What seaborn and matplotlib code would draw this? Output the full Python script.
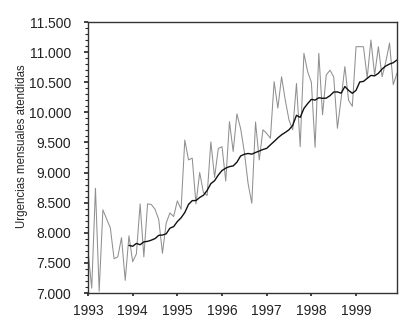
import numpy as np
import pandas as pd
import matplotlib
matplotlib.use("Agg")
import matplotlib.pyplot as plt
from matplotlib.ticker import FuncFormatter, MultipleLocator
from matplotlib import font_manager
import seaborn as sns

# monthly emergencies attended, Jan 1993 .. Dec 1999
years = [1993, 1994, 1995, 1996, 1997, 1998, 1999]
urgencias = [
    7700, 7080, 8740, 7030, 8380, 8230, 8080, 7570, 7600, 7920, 7210, 7950,
    7520, 7650, 8480, 7600, 8480, 8470, 8390, 8220, 7660, 8160, 8330, 8270,
    8530, 8390, 9540, 9210, 9240, 8480, 9000, 8670, 8620, 9510, 8920, 9400,
    9430, 8860, 9845, 9350, 9975, 9730, 9340, 8820, 8490, 9840, 9210, 9710,
    9650, 9570, 10510, 10070, 10590, 10200, 9870, 9710, 10480, 9430, 10980, 10675,
    10500, 9420, 10980, 9960, 10620, 10700, 10590, 9735, 10230, 10760, 10200, 10100,
    11090, 11090, 11090, 10570, 11200, 10620, 11090, 10590, 10840, 11150, 10460, 10650,
]
y_ticks = [7000, 7500, 8000, 8500, 9000, 9500, 10000, 10500, 11000, 11500]
y_label = "Urgencias mensuales atendidas"

df = pd.DataFrame({
    "t": [years[0] + i / 12 for i in range(len(urgencias))],
    "urg": urgencias,
})
df["ma"] = df["urg"].rolling(12).mean()

sns.set_style("ticks")
plt.rcParams["font.family"] = ["Liberation Sans", "DejaVu Sans"]

names = {f.name for f in font_manager.fontManager.ttflist}
label_family = ["Liberation Sans Narrow"] if "Liberation Sans Narrow" in names else ["Liberation Sans"]
label_size = 10 if "Liberation Sans Narrow" in names else 8.3

fig = plt.figure(figsize=(4.08, 3.19), dpi=100)
ax = fig.add_axes([0.2157, 0.0815, 0.973 - 0.2157, 0.931 - 0.0815])

sns.lineplot(data=df, x="t", y="urg", ax=ax, color="#909090", linewidth=0.75)
sns.lineplot(data=df.dropna(), x="t", y="ma", ax=ax, color="#111111", linewidth=1.0)

ax.set_xlim(years[0], years[0] + (len(urgencias) - 1) / 12)
ax.set_ylim(y_ticks[0], y_ticks[-1])
ax.set_xticks(years)
ax.set_xticklabels([str(y) for y in years])
ax.set_yticks(y_ticks)
ax.yaxis.set_major_formatter(FuncFormatter(lambda v, p: f"{v:,.0f}".replace(",", ".")))
ax.yaxis.set_minor_locator(MultipleLocator(100))

ax.set_xlabel("")
ax.set_ylabel(y_label, fontsize=label_size, family=label_family)
ax.yaxis.set_label_coords(-0.194, 0.542)
ax.tick_params(axis="both", labelsize=10, colors="#222222")
ax.tick_params(axis="y", which="major", length=3, width=1.2, pad=9)
ax.tick_params(axis="y", which="minor", length=2, width=0.8)
ax.tick_params(axis="x", which="major", length=2, width=1.2, pad=6)

for s in ax.spines.values():
    s.set_visible(True)
    s.set_color("#333333")
    s.set_linewidth(1.0)

fig.savefig("out.png", dpi=100)
